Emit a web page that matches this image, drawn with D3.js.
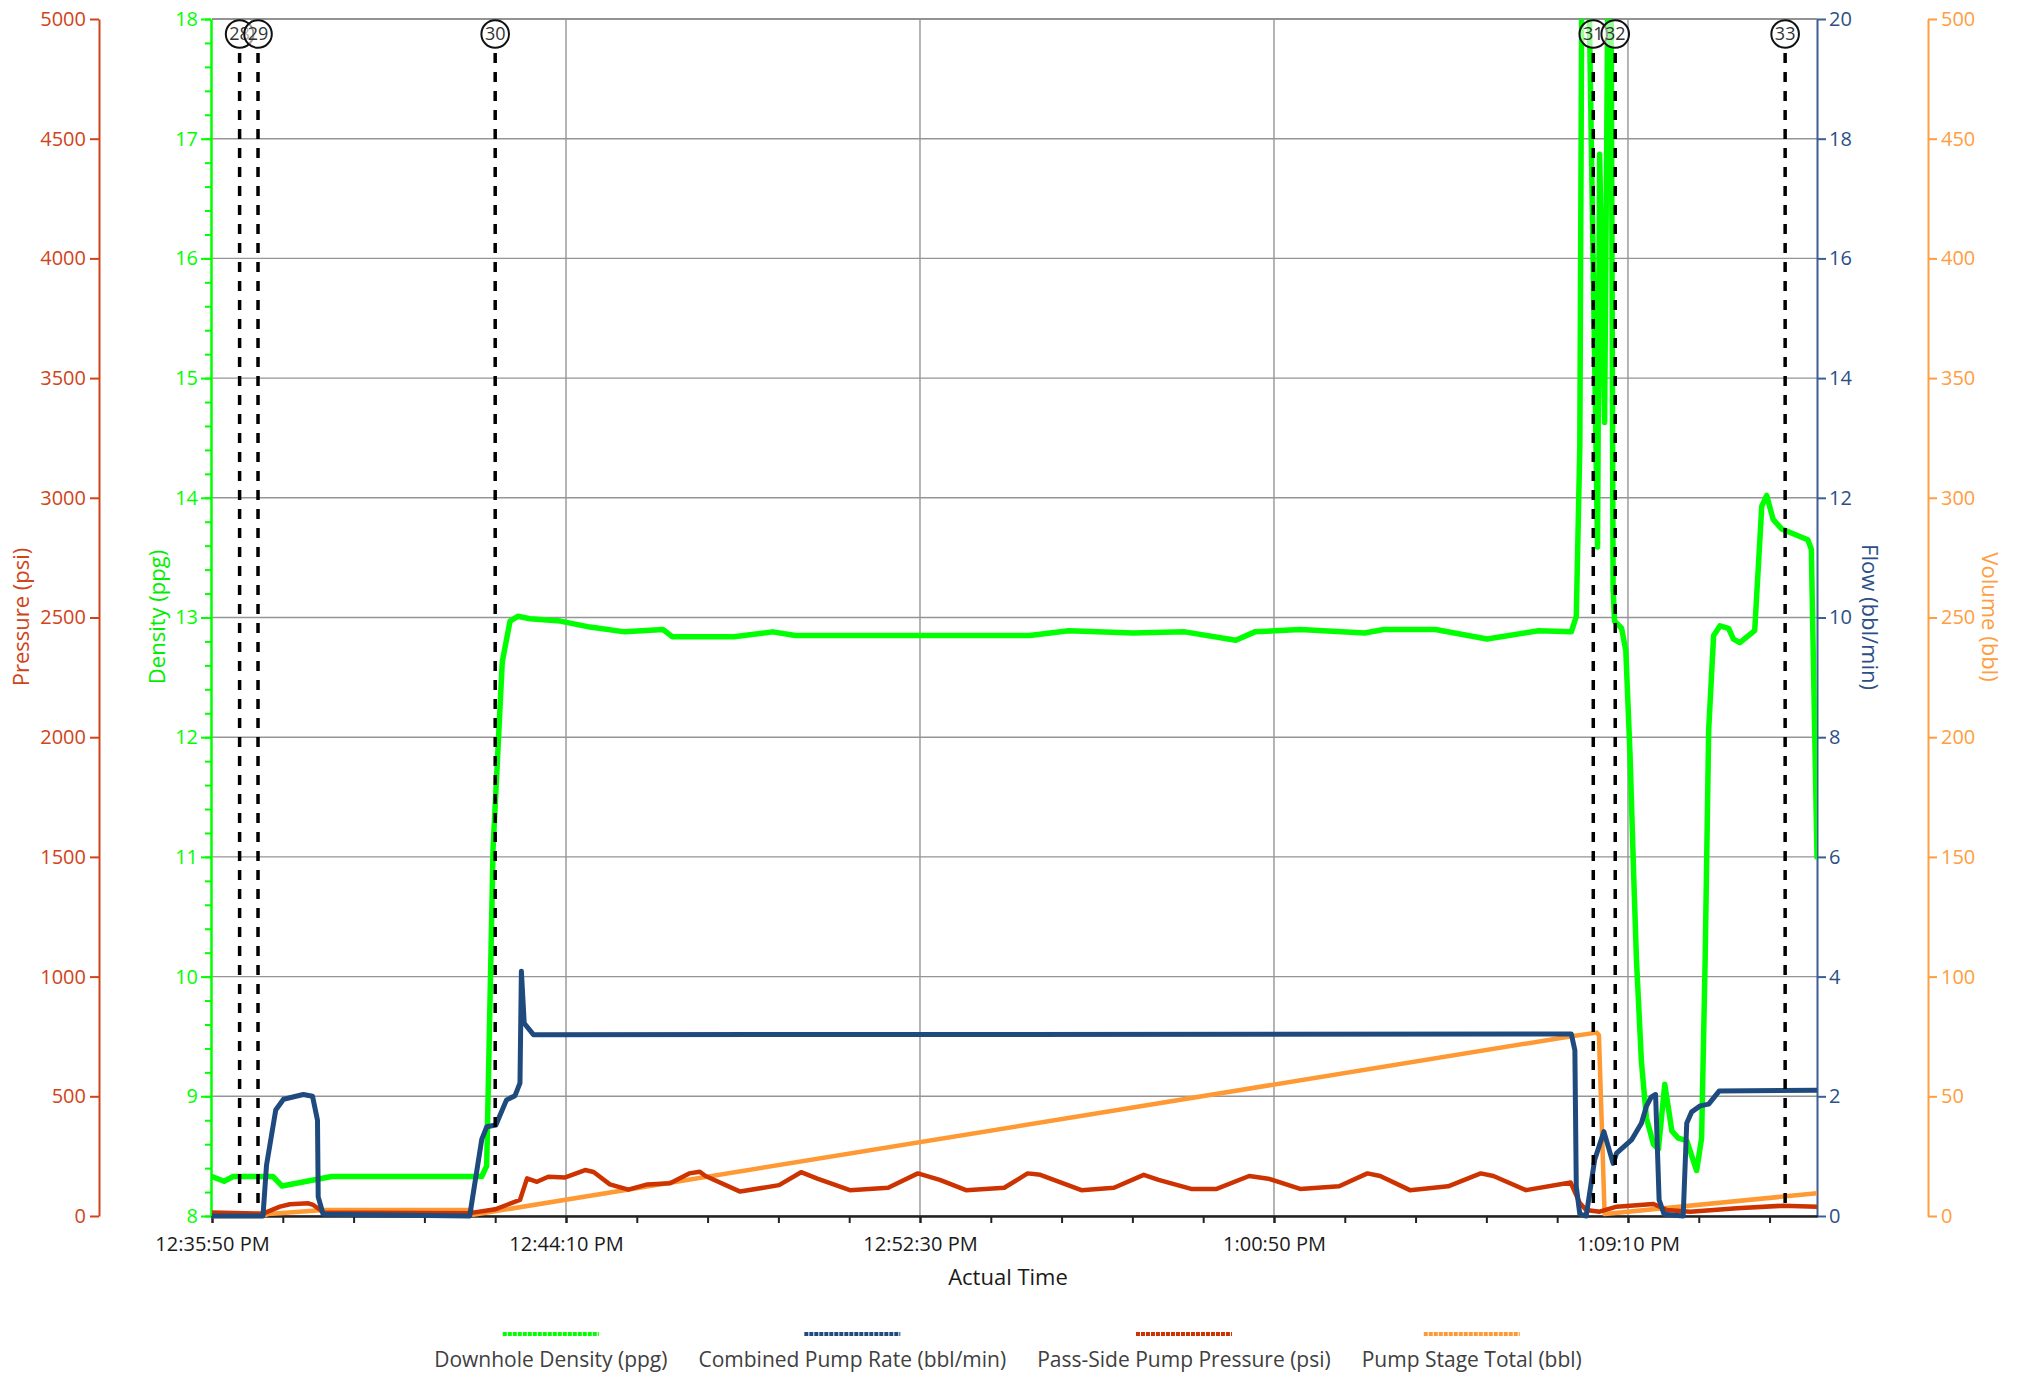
<!DOCTYPE html>
<html>
<head>
<meta charset="utf-8">
<script src="https://cdn.jsdelivr.net/npm/d3@7"></script>
<style>
    body { margin: 0; background: #fff; }
    svg text { font-family: "Open Sans", sans-serif; }
</style>
</head>
<body>
<div id="chart"></div>
<script>
// all times are seconds after the start of the axis
var startTime = "12:35:50";
var endSeconds = 2267;
var xMajorTicks = [0, 500, 1000, 1500, 2000];
var xMinorTicks = d3.range(0, 2201, 100);

var pressureTicks = [0, 500, 1000, 1500, 2000, 2500, 3000, 3500, 4000, 4500, 5000];
var densityTicks = [8, 9, 10, 11, 12, 13, 14, 15, 16, 17, 18];
var flowTicks = [0, 2, 4, 6, 8, 10, 12, 14, 16, 18, 20];
var volumeTicks = [0, 50, 100, 150, 200, 250, 300, 350, 400, 450, 500];

// event markers
var markerLabels = ["28", "29", "30", "31", "32", "33"];
var markerTimes = [39, 65, 400, 1951, 1982, 2222];

// Downhole Density (ppg)
var density = [
    [0, 8.33], [17, 8.29], [30, 8.33], [86, 8.33], [99, 8.25], [169, 8.33], [381, 8.33],
    [388, 8.42], [397, 11.07], [410, 12.63], [421, 12.97], [432, 13.01], [449, 12.99],
    [492, 12.97], [534, 12.92], [583, 12.88], [637, 12.9], [650, 12.84], [737, 12.84],
    [792, 12.88], [824, 12.85], [1155, 12.85], [1210, 12.89], [1301, 12.87], [1374, 12.88],
    [1446, 12.81], [1473, 12.88], [1537, 12.9], [1628, 12.87], [1655, 12.9], [1728, 12.9],
    [1801, 12.82], [1874, 12.89], [1920, 12.88], [1927, 13.01], [1932, 14.43], [1935, 18.6],
    [1944, 18.6], [1957, 13.59], [1960, 16.87], [1967, 14.63], [1972, 18.6], [1976, 18.6],
    [1979, 13.25], [1981, 12.97], [1991, 12.91], [1997, 12.72], [2003, 11.84], [2008, 10.86],
    [2012, 10.14], [2019, 9.29], [2026, 8.82], [2036, 8.6], [2043, 8.56], [2052, 9.1],
    [2062, 8.71], [2071, 8.65], [2083, 8.63], [2097, 8.38], [2104, 8.65], [2109, 10.14],
    [2114, 12.06], [2121, 12.85], [2130, 12.93], [2142, 12.91], [2149, 12.82], [2158, 12.79],
    [2179, 12.89], [2189, 13.93], [2196, 14.02], [2205, 13.82], [2217, 13.74], [2254, 13.65],
    [2259, 13.57], [2267, 11.0]
];

// Combined Pump Rate (bbl/min)
var pumpRate = [
    [0, 0], [72, 0], [77, 0.85], [90, 1.77], [101, 1.95], [129, 2.03], [142, 2.0], [149, 1.6],
    [150, 0.32], [157, 0.03], [364, 0], [381, 1.28], [388, 1.49], [401, 1.52], [416, 1.94],
    [428, 2.01], [435, 2.22], [437, 4.09], [441, 3.22], [454, 3.03], [1920, 3.04], [1925, 2.77],
    [1927, 0.49], [1932, 0.03], [1941, 0], [1953, 0.94], [1966, 1.41], [1979, 0.88], [1984, 1.05],
    [2005, 1.27], [2019, 1.55], [2026, 1.83], [2033, 1.99], [2039, 2.03], [2044, 0.27],
    [2051, 0.03], [2078, 0], [2083, 1.55], [2090, 1.74], [2102, 1.84], [2114, 1.87],
    [2129, 2.09], [2267, 2.1]
];

// Pass-Side Pump Pressure (psi)
var pressure = [
    [0, 15], [72, 10], [96, 39], [110, 49], [136, 53], [143, 46], [153, 25], [157, 15],
    [364, 12], [400, 28], [416, 46], [435, 67], [445, 157], [459, 143], [475, 164], [499, 161],
    [527, 192], [539, 184], [562, 132], [588, 110], [615, 132], [647, 137], [674, 178],
    [689, 185], [697, 167], [746, 102], [801, 129], [832, 183], [855, 156], [901, 108],
    [955, 118], [997, 178], [1028, 151], [1065, 108], [1119, 118], [1152, 178], [1170, 172],
    [1228, 108], [1274, 118], [1316, 172], [1337, 151], [1383, 113], [1419, 113], [1465, 167],
    [1492, 156], [1537, 113], [1592, 124], [1632, 178], [1650, 167], [1692, 108], [1746, 124],
    [1792, 178], [1810, 167], [1856, 108], [1919, 140], [1932, 54], [1941, 25], [1960, 18],
    [1984, 39], [2036, 50], [2055, 25], [2088, 18], [2154, 32], [2219, 43], [2267, 39]
];

// Pump Stage Total (bbl)
var stageTotal = [
    [0, 0], [72, 0], [79, 0.8], [158, 2.5], [366, 2.5], [369, 0.5], [1918, 75.0],
    [1956, 76.6], [1959, 75.5], [1967, 0.8], [2267, 9.5]
];

var legendNames = ["Downhole Density (ppg)", "Combined Pump Rate (bbl/min)", "Pass-Side Pump Pressure (psi)", "Pump Stage Total (bbl)"];
var legendColors = ["#00ff00", "#1f4a7e", "#cc3300", "#ff9933"];

var W = 2019, H = 1375;
var plot = { left: 212, right: 1817, top: 19, bottom: 1216 };

var t0 = d3.timeParse("%H:%M:%S")(startTime);
function toDate(s) { return new Date(t0.getTime() + s * 1000); }

var svg = d3.select("#chart").append("svg")
    .attr("width", W)
    .attr("height", H);

var x = d3.scaleTime()
    .domain([toDate(0), toDate(endSeconds)])
    .range([plot.left, plot.right]);
var yP = d3.scaleLinear().domain([0, 5000]).range([plot.bottom, plot.top]);
var yD = d3.scaleLinear().domain([8, 18]).range([plot.bottom, plot.top]);
var yF = d3.scaleLinear().domain([0, 20]).range([plot.bottom, plot.top]);
var yV = d3.scaleLinear().domain([0, 500]).range([plot.bottom, plot.top]);

// grid
var grid = svg.append("g").attr("stroke", "#959595").attr("stroke-width", 1.4);
grid.selectAll(".hgrid").data(densityTicks).enter().append("line")
    .attr("x1", plot.left).attr("x2", plot.right)
    .attr("y1", d => yD(d)).attr("y2", d => yD(d));
grid.selectAll(".vgrid").data(xMajorTicks.slice(1)).enter().append("line")
    .attr("x1", d => x(toDate(d))).attr("x2", d => x(toDate(d)))
    .attr("y1", plot.top).attr("y2", plot.bottom);

// y axes
function styleAxis(g, color) {
    g.selectAll("path").attr("stroke", color).attr("stroke-width", 2);
    g.selectAll("line").attr("stroke", color).attr("stroke-width", 2);
    g.selectAll("text").attr("fill", color).style("font-size", "20px").attr("font-family", null);
}

var pAxis = svg.append("g")
    .attr("transform", "translate(99,0)")
    .call(d3.axisLeft(yP).tickValues(pressureTicks).tickFormat(d3.format("d"))
        .tickSize(9).tickSizeOuter(0).tickPadding(4));
styleAxis(pAxis, "#d0441a");

var dMinor = svg.append("g")
    .attr("transform", "translate(" + (plot.left - 1) + ",0)")
    .call(d3.axisLeft(yD).tickValues(d3.range(8, 18.01, 0.2)).tickSize(6).tickSizeOuter(0).tickFormat(""));
styleAxis(dMinor, "#00ff00");
var dAxis = svg.append("g")
    .attr("transform", "translate(" + (plot.left - 1) + ",0)")
    .call(d3.axisLeft(yD).tickValues(densityTicks).tickSize(10).tickSizeOuter(0).tickPadding(3));
styleAxis(dAxis, "#00ff00");

var fAxis = svg.append("g")
    .attr("transform", "translate(" + plot.right + ",0)")
    .call(d3.axisRight(yF).tickValues(flowTicks).tickSize(9).tickSizeOuter(0).tickPadding(3));
styleAxis(fAxis, "#3a5f94");
fAxis.selectAll("text").attr("fill", "#2b4f86");

var vAxis = svg.append("g")
    .attr("transform", "translate(1928,0)")
    .call(d3.axisRight(yV).tickValues(volumeTicks).tickSize(9).tickSizeOuter(0).tickPadding(4));
styleAxis(vAxis, "#ff9d40");

// top border
svg.append("line")
    .attr("x1", plot.left).attr("x2", plot.right)
    .attr("y1", plot.top).attr("y2", plot.top)
    .attr("stroke", "#8a8a8a").attr("stroke-width", 1.6);

// x axis
var xMinor = svg.append("g")
    .attr("transform", "translate(0," + plot.bottom + ")")
    .call(d3.axisBottom(x).tickValues(xMinorTicks.map(toDate)).tickSize(7).tickSizeOuter(0).tickFormat(""));
var xAxis = svg.append("g")
    .attr("transform", "translate(0," + plot.bottom + ")")
    .call(d3.axisBottom(x).tickValues(xMajorTicks.map(toDate)).tickSize(7).tickSizeOuter(0).tickPadding(14)
        .tickFormat(d3.timeFormat("%-I:%M:%S %p")));
[xMinor, xAxis].forEach(function(g) {
    g.selectAll("path").attr("stroke", "#222").attr("stroke-width", 2);
    g.selectAll("line").attr("stroke", "#222").attr("stroke-width", 2);
});
xAxis.selectAll("text").attr("fill", "#1a1a1a").style("font-size", "20px").attr("font-family", null);

// axis titles
function title(txt, cx, cy, rot, color) {
    svg.append("text")
        .attr("transform", "translate(" + cx + "," + cy + ") rotate(" + rot + ")")
        .attr("text-anchor", "middle")
        .attr("dy", "0.35em")
        .attr("fill", color)
        .style("font-size", "22px")
        .text(txt);
}
title("Pressure (psi)", 21, 617, -90, "#d0441a");
title("Density (ppg)", 157, 617, -90, "#00ee00");
title("Flow (bbl/min)", 1870, 617, 90, "#2b4f86");
title("Volume (bbl)", 1990, 617, 90, "#ff9d40");
title("Actual Time", 1008, 1277, 0, "#1a1a1a");

// data lines
svg.append("clipPath").attr("id", "clip")
    .append("rect")
    .attr("x", plot.left).attr("y", plot.top)
    .attr("width", plot.right - plot.left).attr("height", plot.bottom - plot.top + 3);

var lines = svg.append("g").attr("clip-path", "url(#clip)")
    .attr("fill", "none").attr("stroke-linejoin", "round").attr("stroke-linecap", "round");

function drawLine(data, yScale, color, w) {
    lines.append("path")
        .datum(data)
        .attr("d", d3.line().x(d => x(toDate(d[0]))).y(d => yScale(d[1])))
        .attr("stroke", color)
        .attr("stroke-width", w);
}
drawLine(stageTotal, yV, "#ff9933", 4.5);
drawLine(pressure, yP, "#cc3300", 4.5);
drawLine(density, yD, "#00ff00", 5.5);
drawLine(pumpRate, yF, "#1f4a7e", 5);

// markers
var markers = svg.append("g");
markers.selectAll("line").data(markerTimes).enter().append("line")
    .attr("x1", d => x(toDate(d))).attr("x2", d => x(toDate(d)))
    .attr("y1", 53).attr("y2", 1206)
    .attr("stroke", "#000").attr("stroke-width", 3.5)
    .attr("stroke-dasharray", "10,9");
var mk = markers.selectAll("g").data(markerTimes).enter().append("g")
    .attr("transform", d => "translate(" + x(toDate(d)) + ",34)");
mk.append("circle")
    .attr("r", 13.8)
    .attr("fill", "#fff").attr("fill-opacity", 0.6)
    .attr("stroke", "#111").attr("stroke-width", 2);
mk.append("text")
    .attr("text-anchor", "middle")
    .attr("dy", "0.36em")
    .attr("fill", "#333")
    .style("font-size", "18px")
    .text((d, i) => markerLabels[i]);

// legend
var legend = svg.append("g");
var items = legend.selectAll("g").data(legendNames).enter().append("g");
items.append("text")
    .attr("text-anchor", "middle")
    .attr("y", 1367)
    .attr("fill", "#404040")
    .style("font-size", "21px")
    .text(d => d);
var widths = [];
items.selectAll("text").each(function() { widths.push(this.getComputedTextLength()); });
var gap = 31;
var total = d3.sum(widths) + gap * (widths.length - 1);
var pos = 1008 - total / 2;
items.each(function(d, i) {
    var cx = pos + widths[i] / 2;
    pos += widths[i] + gap;
    d3.select(this).select("text").attr("x", cx);
    d3.select(this).append("line")
        .attr("x1", cx - 48).attr("x2", cx + 48)
        .attr("y1", 1334).attr("y2", 1334)
        .attr("stroke", legendColors[i])
        .attr("stroke-width", 4)
        .attr("stroke-dasharray", "4,1");
});
</script>
</body>
</html>
